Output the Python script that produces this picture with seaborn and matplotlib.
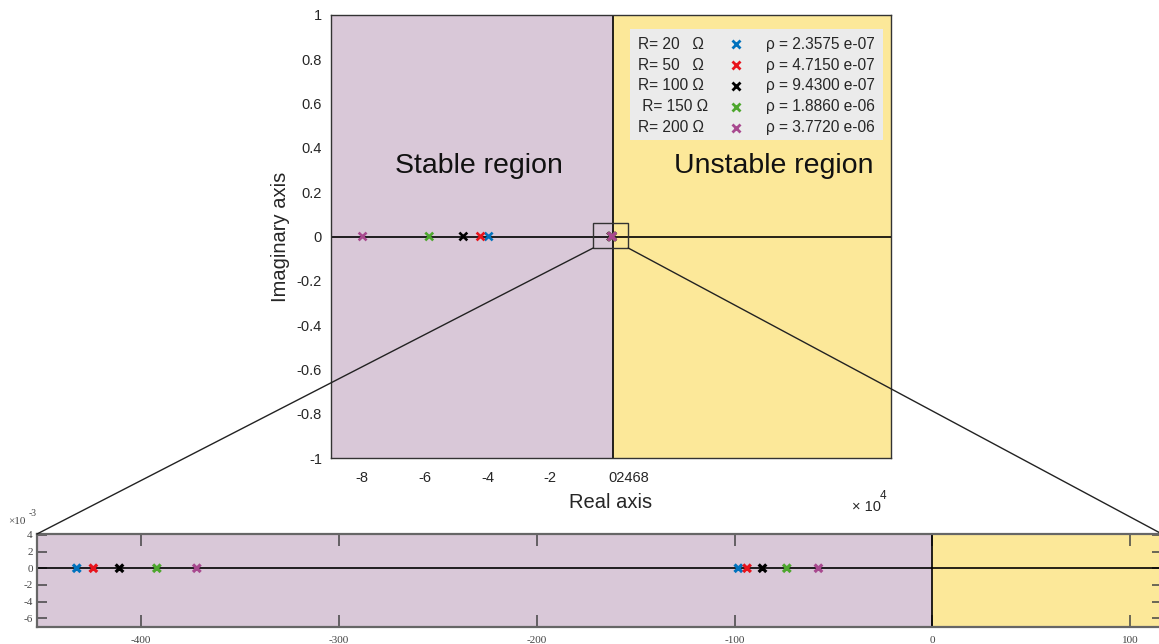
import numpy as np
import pandas as pd
import matplotlib
matplotlib.use("Agg")
import matplotlib.pyplot as plt
import matplotlib.transforms as mtransforms
from matplotlib.patches import Rectangle, ConnectionPatch
import seaborn as sns

# ---- pole data (one row per resistance) ----
resistance = [20, 50, 100, 150, 200]
r_labels = ["R= 20   Ω", "R= 50   Ω", "R= 100 Ω", " R= 150 Ω", "R= 200 Ω"]
rho_labels = ["ρ = 2.3575 e-07", "ρ = 4.7150 e-07", "ρ = 9.4300 e-07",
              "ρ = 1.8860 e-06", "ρ = 3.7720 e-06"]
pole_fast = [-3.96e4, -4.22e4, -4.77e4, -5.86e4, -7.99e4]
pole_mid = [-432.6, -424.2, -411.0, -392.1, -371.9]
pole_slow = [-98.1, -93.7, -85.9, -73.6, -57.6]
pole_colors = ["#0072bd", "#e8141c", "#000000", "#4ea72e", "#a8498f"]

# main view ticks
main_xticks = [-8, -6, -4, -2, 0, 2, 4, 6, 8]          # x 1e4
main_yticks = [-1, -0.8, -0.6, -0.4, -0.2, 0, 0.2, 0.4, 0.6, 0.8, 1]
# zoomed view ticks
zoom_xticks = [-400, -300, -200, -100, 0, 100]
zoom_yticks = [-6, -4, -2, 0, 2, 4]                     # x 1e-3

STABLE = "#d9c8d8"
UNSTABLE = "#fce899"

rows = []
for r, pf, pm, ps in zip(resistance, pole_fast, pole_mid, pole_slow):
    for p in (pf, pm, ps):
        rows.append({"R": r, "real": p, "imag": 0.0})
poles = pd.DataFrame(rows)
palette = dict(zip(resistance, pole_colors))

sns.set_theme(style="white")
plt.rcParams["font.family"] = ["Liberation Sans", "DejaVu Sans"]

fig = plt.figure(figsize=(11.59, 6.44), dpi=100)

# ================= main pole map =================
ax = fig.add_axes([331 / 1159, 1 - 458 / 644, 560 / 1159, 443 / 644])
xmin, xmax = -9.0e4, 8.9e4
ax.set_xlim(xmin, xmax)
ax.set_ylim(-1, 1)
ax.axvspan(xmin, 0, color=STABLE, zorder=0, lw=0)
ax.axvspan(0, xmax, color=UNSTABLE, zorder=0, lw=0)
ax.axhline(0, color="black", lw=1.2, zorder=2)
ax.axvline(0, color="black", lw=1.2, zorder=2)

sns.scatterplot(data=poles, x="real", y="imag", hue="R", palette=palette,
                marker="x", s=32, linewidth=1.9, legend=False, ax=ax, zorder=5)

ax.set_xticks([t * 1e4 for t in main_xticks])
ax.set_xticklabels([f"{t}" if t < 0 else ("02468" if t == 0 else "")
                    for t in main_xticks])
ax.set_yticks(main_yticks)
ax.set_yticklabels([f"{t:g}" for t in main_yticks])
ax.tick_params(direction="in", length=3, width=0.9, color="#333333",
               labelsize=10.5, labelcolor="#262626")
ax.tick_params(axis="x", pad=9)
ax.tick_params(axis="y", pad=6.5)
for lab in ax.get_xticklabels():
    if lab.get_text() == "02468":
        lab.set_ha("left")
        lab.set_transform(lab.get_transform() +
                          mtransforms.ScaledTranslation(-4 / 100, 0, fig.dpi_scale_trans))
for sp in ax.spines.values():
    sp.set_color("#333333")
    sp.set_linewidth(1.0)

ax.set_xlabel("Real axis", fontsize=14.5, color="#262626", labelpad=6)
ax.set_ylabel("Imaginary axis", fontsize=14.5, color="#262626", labelpad=5)

ax.text(-4.27e4, 0.318, "Stable region", fontsize=20.5, ha="center",
        va="center", color="#111111")
ax.text(5.16e4, 0.318, "Unstable region", fontsize=20.5, ha="center",
        va="center", color="#111111")

# exponent of the main x axis
fig.text(852 / 1159, 1 - 511 / 644, "× 10", fontsize=10.5, color="#262626",
         va="baseline")
fig.text(880 / 1159, 1 - 499 / 644, "4", fontsize=8.5, color="#262626",
         va="baseline")

# legend panel
ax.add_patch(Rectangle((0.534, 0.718), 0.452, 0.25, transform=ax.transAxes,
                       facecolor="#ebebeb", edgecolor="none", zorder=6))
row_y = [0.9339, 0.8871, 0.8404, 0.7930, 0.7456]
for y, rl, col, rho in zip(row_y, r_labels, pole_colors, rho_labels):
    ax.text(0.548, y, rl, transform=ax.transAxes, fontsize=11.2,
            va="center", ha="left", color="#262626", zorder=7)
    ax.plot([0.723], [y], transform=ax.transAxes, marker="x", ms=6,
            mew=2.0, color=col, zorder=7, clip_on=False, ls="none")
    ax.text(0.776, y, rho, transform=ax.transAxes, fontsize=11.2,
            va="center", ha="left", color="#262626", zorder=7)

# zoom window around the origin
box_x0, box_x1 = -6200, 5000
box_y0, box_y1 = -0.052, 0.061
ax.add_patch(Rectangle((box_x0, box_y0), box_x1 - box_x0, box_y1 - box_y0,
                       facecolor="none", edgecolor="#333333", lw=1.0, zorder=4))

# ================= zoomed view near the origin =================
ax2 = fig.add_axes([37 / 1159, 1 - 626.7 / 644, 1125 / 1159, 92.7 / 644])
zxmin, zxmax = -452.7, 116.1
ax2.set_xlim(zxmin, zxmax)
ax2.set_ylim(-7.0e-3, 4.1e-3)
ax2.axvspan(zxmin, 0, color=STABLE, zorder=0, lw=0)
ax2.axvspan(0, zxmax, color=UNSTABLE, zorder=0, lw=0)
ax2.axhline(0, color="black", lw=1.2, zorder=2)
ax2.axvline(0, color="black", lw=1.2, zorder=2)

sns.scatterplot(data=poles, x="real", y="imag", hue="R", palette=palette,
                marker="x", s=30, linewidth=2.3, legend=False, ax=ax2, zorder=5)

ax2.set_xticks(zoom_xticks)
ax2.set_xticklabels([f"{t}" for t in zoom_xticks])
ax2.set_yticks([t * 1e-3 for t in zoom_yticks])
ax2.set_yticklabels([f"{t}" for t in zoom_yticks])
ax2.tick_params(axis="x", direction="in", length=8.5, width=1.1, color="#444444",
                top=True, bottom=True, pad=7)
ax2.tick_params(axis="y", direction="in", length=7, width=1.1, color="#444444",
                left=True, right=True, pad=3)
for lab in ax2.get_xticklabels() + ax2.get_yticklabels():
    lab.set_family(["Liberation Serif", "DejaVu Serif"])
    lab.set_fontsize(8)
    lab.set_color("#444444")
for sp in ax2.spines.values():
    sp.set_color("#666666")
    sp.set_linewidth(1.6)
ax2.set_xlabel("")
ax2.set_ylabel("")

fig.text(8 / 1159, 1 - 524 / 644, "×10", fontsize=8, color="#444444",
         family=["Liberation Serif", "DejaVu Serif"], va="baseline")
fig.text(29 / 1159, 1 - 516 / 644, "-3", fontsize=7, color="#444444",
         family=["Liberation Serif", "DejaVu Serif"], va="baseline")

# connector lines from the zoom window to the zoomed panel
for xa, xb in ((box_x0, 0), (box_x1, 1)):
    con = ConnectionPatch(xyA=(xa, box_y0), coordsA=ax.transData,
                          xyB=(xb, 1), coordsB=ax2.transAxes,
                          color="#222222", lw=1.0, zorder=3)
    fig.add_artist(con)

fig.savefig("out.png", dpi=100)
